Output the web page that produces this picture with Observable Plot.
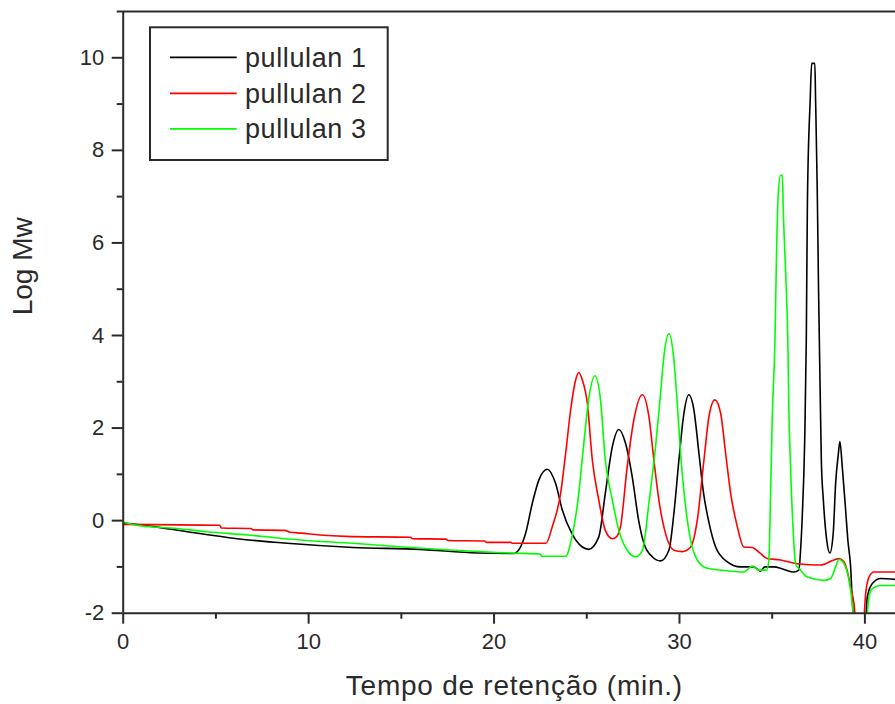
<!DOCTYPE html>
<html>
<head>
<meta charset="utf-8">
<script src="https://cdn.jsdelivr.net/npm/d3@7"></script>
<script src="https://cdn.jsdelivr.net/npm/@observablehq/plot@0.6"></script>
<style>
  html, body { margin: 0; padding: 0; background: #fff; }
  #wrap { position: relative; width: 895px; height: 704px; overflow: hidden; }
  #legend { position: absolute; left: 0; top: 0; pointer-events: none; }
  .xlab text { letter-spacing: 0.75px; }
</style>
</head>
<body>
<div id="wrap"></div>
<script>
// ---- data ----
const SERIES = ["pullulan 1", "pullulan 2", "pullulan 3"];
const COLORS = ["#000000", "#ff0000", "#00ff00"];
const X_LABEL = "Tempo de retenção (min.)";
const Y_LABEL = "Log Mw";
const X_MAJOR = [0, 10, 20, 30, 40];
const X_MINOR = [5, 15, 25, 35];
const Y_MAJOR = [-2, 0, 2, 4, 6, 8, 10];
const Y_MINOR = [-1, 1, 3, 5, 7, 9, 11];

// pullulan 1 (black)
const t1 = [0, 1.65, 3.45, 6.15, 8.85, 12.4, 16.0, 19.1, 21.07, 21.7, 22.06, 22.42, 22.87, 23.32, 23.68, 24.2, 24.76, 25.1, 25.65, 26.0, 26.38, 26.73, 27.09, 27.45, 27.8, 28.08, 28.53, 28.98, 29.43, 29.7, 29.97, 30.24, 30.5, 30.78, 31.05, 31.3, 31.6, 31.95, 32.58, 33.3, 34.0, 34.37, 34.6, 35.09, 35.6, 36.17, 36.44, 36.53, 36.62, 36.75, 36.84, 36.9, 37.05, 37.13, 37.3, 37.34, 37.43, 37.5, 37.58, 37.65, 37.76, 37.94, 38.11, 38.29, 38.42, 38.57, 38.65, 38.78, 38.96, 39.08, 39.23, 39.32, 39.45, 40.0, 40.13, 40.4, 40.85, 41.65];
const v1 = [-0.05, -0.13, -0.24, -0.39, -0.49, -0.58, -0.62, -0.70, -0.71, -0.28, 0.37, 0.88, 1.11, 0.80, 0.23, -0.28, -0.57, -0.62, -0.35, 0.59, 1.60, 1.97, 1.67, 0.95, 0.0, -0.49, -0.78, -0.87, -0.64, 0.16, 1.31, 2.32, 2.72, 2.39, 1.45, 0.59, -0.06, -0.57, -0.89, -1.0, -1.0, -1.09, -1.0, -1.0, -1.05, -1.11, -1.07, -0.64, 0.08, 1.67, 3.94, 6.9, 9.1, 9.88, 9.88, 9.1, 7.15, 4.99, 2.97, 1.31, 0.44, -0.42, -0.70, -0.28, 0.80, 1.45, 1.71, 1.16, 0.23, -0.42, -1.0, -1.72, -2.3, -2.3, -1.65, -1.36, -1.25, -1.27];

// pullulan 2 (red)
const t2 = [0, 5.2, 5.3, 6.9, 7.0, 8.7, 9.0, 9.6, 10.6, 12.0, 15.5, 15.6, 17.4, 17.5, 19.5, 19.6, 20.9, 21.0, 22.8, 23.14, 23.59, 23.86, 24.13, 24.4, 24.57, 24.75, 25.03, 25.3, 25.65, 26.0, 26.38, 26.6, 26.82, 27.18, 27.54, 28.0, 28.35, 28.62, 28.89, 29.25, 29.7, 30.15, 30.6, 30.96, 31.32, 31.59, 31.91, 32.22, 32.49, 32.76, 33.12, 33.47, 33.93, 34.1, 34.37, 34.73, 35.45, 36.35, 37.61, 38.33, 38.6, 38.87, 39.08, 39.23, 39.41, 39.55, 39.9, 40.04, 40.22, 40.49, 41.65];
const v2 = [-0.08, -0.10, -0.16, -0.17, -0.20, -0.21, -0.25, -0.27, -0.31, -0.34, -0.36, -0.39, -0.40, -0.43, -0.44, -0.47, -0.47, -0.49, -0.49, -0.13, 0.59, 1.45, 2.39, 3.04, 3.20, 3.05, 2.54, 1.31, 0.44, -0.21, -0.39, -0.35, -0.13, 1.16, 2.18, 2.72, 2.25, 1.31, 0.44, -0.28, -0.64, -0.67, -0.57, 0.01, 1.31, 2.25, 2.61, 2.32, 1.45, 0.59, -0.13, -0.57, -0.58, -0.62, -0.71, -0.82, -0.85, -0.93, -0.96, -0.85, -0.82, -0.89, -1.14, -1.43, -1.79, -2.3, -2.3, -1.58, -1.22, -1.11, -1.11];

// pullulan 3 (green)
const t3 = [0, 0.7, 2.9, 4.5, 6.7, 9.56, 12.4, 15.1, 17.8, 20.9, 22.5, 22.55, 23.86, 24.2, 24.57, 24.84, 25.1, 25.44, 25.74, 26.0, 26.38, 26.73, 27.18, 27.63, 28.0, 28.35, 28.71, 28.98, 29.16, 29.43, 29.7, 29.88, 30.06, 30.33, 30.6, 30.96, 31.5, 32.22, 33.47, 33.93, 34.28, 34.7, 34.82, 34.91, 35.0, 35.15, 35.24, 35.33, 35.45, 35.55, 35.6, 35.72, 35.85, 35.9, 35.99, 36.14, 36.26, 36.53, 36.9, 37.79, 38.15, 38.42, 38.6, 38.87, 39.14, 39.32, 39.42, 40.04, 40.22, 40.4, 40.85, 41.65];
const v3 = [-0.03, -0.10, -0.17, -0.24, -0.31, -0.42, -0.49, -0.57, -0.64, -0.70, -0.72, -0.77, -0.77, -0.35, 0.59, 1.67, 2.61, 3.13, 2.61, 1.31, 0.44, -0.21, -0.64, -0.78, -0.64, 0.37, 1.60, 2.75, 3.55, 4.04, 3.47, 2.54, 1.45, 0.30, -0.42, -0.85, -1.03, -1.07, -1.11, -0.98, -1.07, -1.07, -0.85, 0.52, 2.18, 3.91, 5.89, 7.08, 7.46, 7.46, 6.68, 5.42, 3.73, 2.39, 1.16, -0.28, -0.93, -1.07, -1.22, -1.29, -1.25, -1.0, -0.84, -0.93, -1.29, -1.79, -2.3, -2.3, -1.65, -1.47, -1.40, -1.40];

// ---- build table ----
const rows = [];
[[t1, v1], [t2, v2], [t3, v3]].forEach(([ts, vs], i) => {
  ts.forEach((t, j) => rows.push({series: SERIES[i], t, v: vs[j]}));
});

const AX = "#2a2a2a";
const FONT = "'Liberation Sans', Arial, Helvetica, sans-serif";
const fmt = d => String(d);

const chart = Plot.plot({
  width: 895,
  height: 704,
  marginLeft: 122.7,
  marginRight: 0,
  marginTop: 11,
  marginBottom: 91.3,
  style: {fontFamily: FONT, background: "white", color: AX},
  x: {domain: [0, 41.65]},
  y: {domain: [-2, 11]},
  color: {domain: SERIES, range: COLORS},
  marks: [
    Plot.line(rows, {x: "t", y: "v", z: "series", stroke: "series", strokeWidth: 1.6, curve: "monotone-x", clip: true}),
    Plot.ruleX([0], {stroke: AX, strokeWidth: 2}),
    Plot.ruleY([-2], {stroke: AX, strokeWidth: 2}),
    Plot.ruleY([11], {stroke: AX, strokeWidth: 2}),
    Plot.axisX({ticks: X_MAJOR, tickSize: 11, tickPadding: 9, fontSize: 22, color: AX, strokeWidth: 2, tickFormat: fmt, label: null}),
    Plot.axisX({ticks: X_MINOR, tickSize: 6, tickFormat: () => "", color: AX, strokeWidth: 2, label: null}),
    Plot.axisY({ticks: Y_MAJOR, tickSize: 11, tickPadding: 8, fontSize: 22, color: AX, strokeWidth: 2, tickFormat: fmt, label: null}),
    Plot.axisY({ticks: Y_MINOR, tickSize: 6, tickFormat: () => "", color: AX, strokeWidth: 2, label: null}),
    Plot.text([X_LABEL], {frameAnchor: "bottom", dx: 5, dy: 82, fontSize: 28, fill: AX, className: "xlab"}),
    Plot.text([Y_LABEL], {frameAnchor: "left", dx: -100, dy: 3, rotate: -90, fontSize: 28, fill: AX})
  ]
});

const wrap = document.getElementById("wrap");
wrap.appendChild(chart);

// ---- legend overlay ----
const lg = d3.select(wrap).append("svg")
  .attr("id", "legend").attr("width", 895).attr("height", 704)
  .style("font-family", FONT);
lg.append("rect").attr("x", 150).attr("y", 27.3).attr("width", 237.7).attr("height", 132.7)
  .attr("fill", "white").attr("stroke", AX).attr("stroke-width", 2);
const rowY = [57.3, 93.3, 128.8];
SERIES.forEach((s, i) => {
  lg.append("line").attr("x1", 170).attr("x2", 236.7).attr("y1", rowY[i]).attr("y2", rowY[i])
    .attr("stroke", COLORS[i]).attr("stroke-width", 1.8);
  lg.append("text").attr("x", 245).attr("y", rowY[i] + 9.4)
    .attr("font-size", 27).attr("letter-spacing", 0.6).attr("fill", AX).text(s);
});
</script>
</body>
</html>
